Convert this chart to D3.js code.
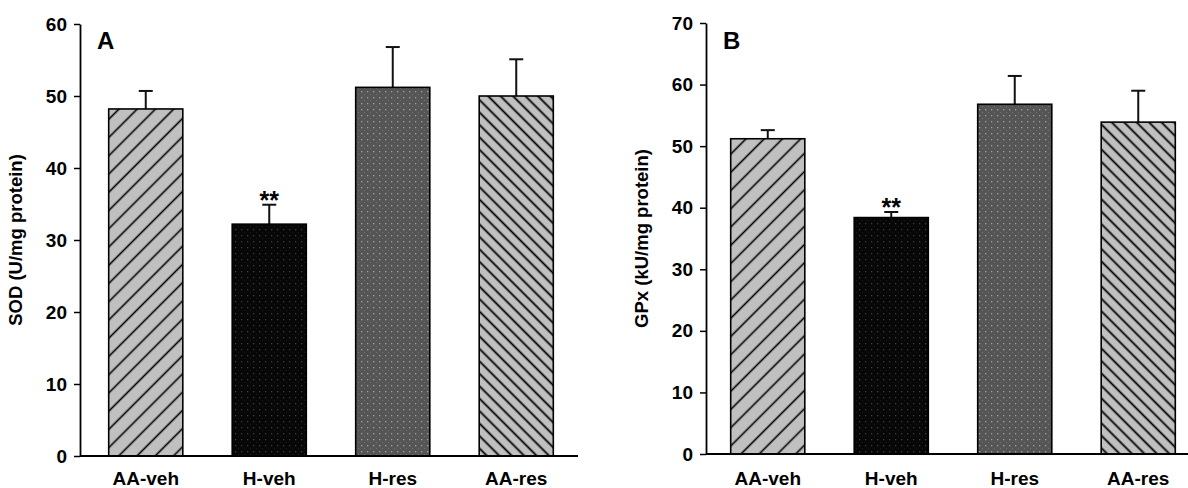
<!DOCTYPE html>
<html>
<head>
<meta charset="utf-8">
<script src="https://cdn.jsdelivr.net/npm/d3@7"></script>
<style>
  body { margin: 0; background: #fff; }
  svg { display: block; font-family: "Liberation Sans", Arial, sans-serif; }
</style>
</head>
<body>
<script>
const categories = ['AA-veh', 'H-veh', 'H-res', 'AA-res'];

// panel A - SOD
const sodMean = [48.2, 32.2, 51.2, 50.0];
const sodErr = [2.5, 2.7, 5.6, 5.1];
const sodTicks = [0, 10, 20, 30, 40, 50, 60];

// panel B - GPx
const gpxMean = [51.2, 38.4, 56.8, 53.9];
const gpxErr = [1.4, 0.9, 4.6, 5.1];
const gpxTicks = [0, 10, 20, 30, 40, 50, 60, 70];

// which bars get the ** mark
const signif = ['', '**', '', ''];

const containerWidth = 1188;
const containerHeight = 488;

const svg = d3.select('body')
  .append('svg')
  .attr('width', containerWidth)
  .attr('height', containerHeight);

svg.append('rect')
  .attr('width', containerWidth)
  .attr('height', containerHeight)
  .attr('fill', '#fff');

// fill patterns
const defs = svg.append('defs');

function hatch(id, angle, gap, lineW) {
  const p = defs.append('pattern')
    .attr('id', id)
    .attr('patternUnits', 'userSpaceOnUse')
    .attr('width', gap).attr('height', gap)
    .attr('patternTransform', `rotate(${angle})`);
  p.append('rect').attr('width', gap).attr('height', gap).attr('fill', '#c0c0c0');
  p.append('line')
    .attr('x1', gap / 2).attr('x2', gap / 2)
    .attr('y1', 0).attr('y2', gap)
    .attr('stroke', '#000')
    .attr('stroke-width', lineW);
}

function dots(id, bg, dot1, dot2) {
  const p = defs.append('pattern')
    .attr('id', id)
    .attr('patternUnits', 'userSpaceOnUse')
    .attr('width', 6).attr('height', 6);
  p.append('rect').attr('width', 6).attr('height', 6).attr('fill', bg);
  p.append('rect').attr('x', 1).attr('y', 1).attr('width', 1.3).attr('height', 1.3).attr('fill', dot1);
  p.append('rect').attr('x', 4).attr('y', 4).attr('width', 1).attr('height', 1).attr('fill', dot2);
}

hatch('hatchFwd', 45, 12.9, 1.6);   // "/" lines
hatch('hatchBack', -45, 8.8, 1.8);  // "\" lines, denser
dots('dotsBlack', '#070707', '#3c3c3c', '#1c1c1c');
dots('dotsGray', '#555555', '#a2a2a2', '#737373');

const fills = ['url(#hatchFwd)', 'url(#dotsBlack)', 'url(#dotsGray)', 'url(#hatchBack)'];

function drawPanel(cfg) {
  const g = svg.append('g');

  const x = d3.scaleBand()
    .domain(categories)
    .range(cfg.xRange)
    .paddingInner(0.4)
    .paddingOuter(0.2);

  const y = d3.scaleLinear()
    .domain([0, d3.max(cfg.ticks)])
    .range(cfg.yRange);

  const data = categories.map((c, i) => ({
    cat: c, mean: cfg.mean[i], err: cfg.err[i], fill: fills[i], mark: signif[i]
  }));

  // error bars (upper only)
  const eb = g.selectAll('.err')
    .data(data)
    .enter()
    .append('g')
    .attr('class', 'err')
    .attr('stroke', '#111')
    .attr('stroke-width', 2);

  eb.append('line')
    .attr('x1', d => x(d.cat) + x.bandwidth() / 2)
    .attr('x2', d => x(d.cat) + x.bandwidth() / 2)
    .attr('y1', d => y(d.mean))
    .attr('y2', d => y(d.mean + d.err));

  eb.append('line')
    .attr('x1', d => x(d.cat) + x.bandwidth() / 2 - 7)
    .attr('x2', d => x(d.cat) + x.bandwidth() / 2 + 7)
    .attr('y1', d => y(d.mean + d.err))
    .attr('y2', d => y(d.mean + d.err));

  // bars
  g.selectAll('.bar')
    .data(data)
    .enter()
    .append('rect')
    .attr('class', 'bar')
    .attr('x', d => x(d.cat))
    .attr('y', d => y(d.mean))
    .attr('width', x.bandwidth())
    .attr('height', d => y(0) - y(d.mean))
    .attr('fill', d => d.fill)
    .attr('stroke', '#000')
    .attr('stroke-width', 1.6);

  // significance stars
  g.selectAll('.star')
    .data(data.filter(d => d.mark))
    .enter()
    .append('text')
    .attr('x', d => x(d.cat) + x.bandwidth() / 2)
    .attr('y', d => y(d.mean + d.err) + 4)
    .attr('text-anchor', 'middle')
    .attr('font-size', 25)
    .attr('font-weight', 'bold')
    .text(d => d.mark);

  // y axis
  const yAxis = g.append('g')
    .attr('transform', `translate(${cfg.axisX}, 0)`)
    .call(d3.axisLeft(y).tickValues(cfg.ticks).tickSize(6).tickSizeOuter(0).tickPadding(7));
  yAxis.select('.domain').attr('stroke', '#000').attr('stroke-width', 1.8);
  yAxis.selectAll('.tick line').attr('stroke', '#000').attr('stroke-width', 1.5);
  yAxis.selectAll('.tick text')
    .attr('font-size', 19)
    .attr('font-weight', 'bold')
    .attr('font-family', '"Liberation Sans", Arial, sans-serif')
    .attr('fill', '#000');

  // x axis line
  g.append('line')
    .attr('x1', cfg.axisX).attr('x2', cfg.xRange[1])
    .attr('y1', y(0)).attr('y2', y(0))
    .attr('stroke', '#000')
    .attr('stroke-width', 1.8);

  // category labels
  g.selectAll('.cat')
    .data(categories)
    .enter()
    .append('text')
    .attr('x', d => x(d) + x.bandwidth() / 2)
    .attr('y', 485)
    .attr('text-anchor', 'middle')
    .attr('font-size', 19)
    .attr('font-weight', 'bold')
    .text(d => d);

  // y title
  const midY = (cfg.yRange[0] + cfg.yRange[1]) / 2;
  g.append('text')
    .attr('transform', `translate(${cfg.axisX - 58}, ${midY}) rotate(-90)`)
    .attr('text-anchor', 'middle')
    .attr('font-size', 18.5)
    .attr('font-weight', 'bold')
    .text(cfg.title);

  // panel letter
  g.append('text')
    .attr('x', cfg.axisX + 17)
    .attr('y', 49)
    .attr('font-size', 24)
    .attr('font-weight', 'bold')
    .text(cfg.letter);
}

drawPanel({
  letter: 'A', title: 'SOD (U/mg protein)',
  mean: sodMean, err: sodErr, ticks: sodTicks,
  axisX: 80, xRange: [84, 578], yRange: [456, 24]
});

drawPanel({
  letter: 'B', title: 'GPx (kU/mg protein)',
  mean: gpxMean, err: gpxErr, ticks: gpxTicks,
  axisX: 706, xRange: [706, 1200], yRange: [454, 23]
});
</script>
</body>
</html>
